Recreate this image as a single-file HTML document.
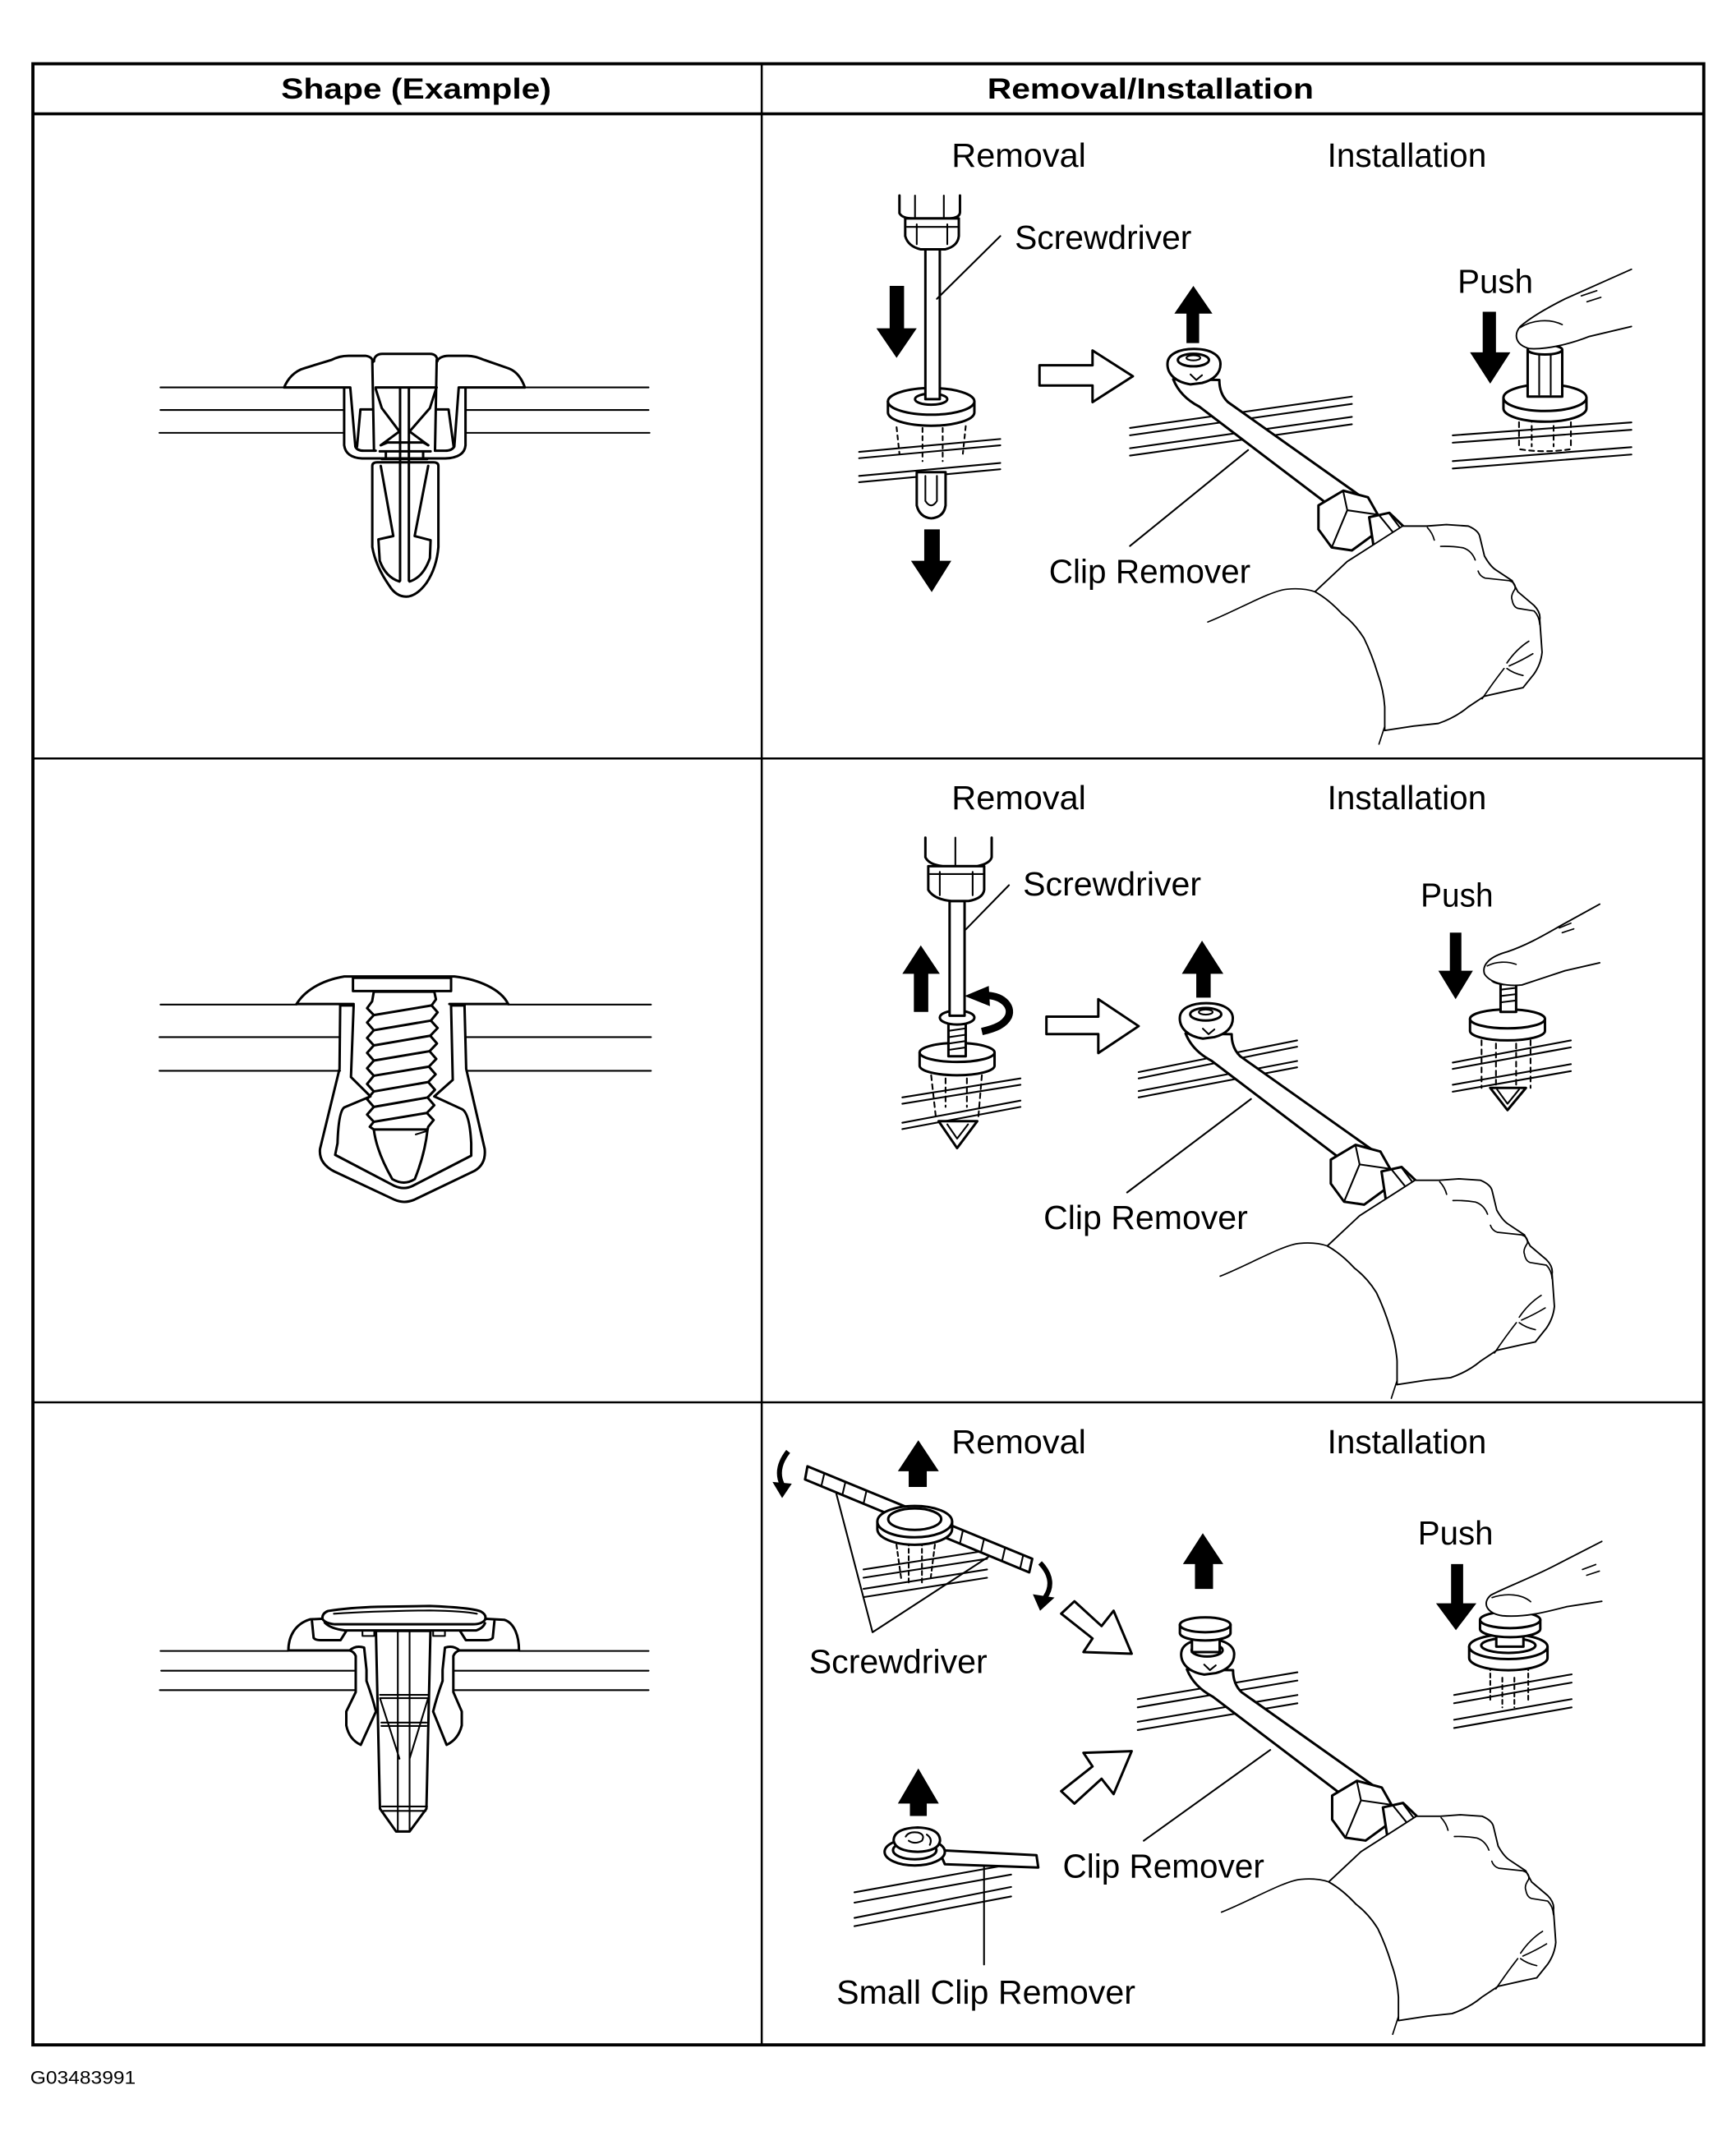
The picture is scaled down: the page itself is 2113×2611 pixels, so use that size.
<!DOCTYPE html>
<html><head><meta charset="utf-8">
<style>
html,body{margin:0;padding:0;background:#fff;}
svg{display:block;}
.s{fill:none;stroke:#000;stroke-width:3;stroke-linejoin:round;stroke-linecap:round;vector-effect:non-scaling-stroke;}
.t{fill:none;stroke:#000;stroke-width:2.1;stroke-linejoin:round;stroke-linecap:round;vector-effect:non-scaling-stroke;}
.w{fill:#fff;stroke:#000;stroke-width:3;stroke-linejoin:round;stroke-linecap:round;vector-effect:non-scaling-stroke;}
.h{fill:#fff;stroke:#000;stroke-width:1.9;stroke-linejoin:round;stroke-linecap:round;vector-effect:non-scaling-stroke;}
.hl{fill:none;stroke:#000;stroke-width:1.7;stroke-linejoin:round;stroke-linecap:round;vector-effect:non-scaling-stroke;}
.f{fill:#000;stroke:none;}
.k{fill:none;stroke:#000;stroke-width:9;stroke-linecap:butt;vector-effect:non-scaling-stroke;}
text{font-family:"Liberation Sans",Arial,sans-serif;fill:#000;}
.lb{font-size:24.5px;}
.hd{font-size:21px;font-weight:bold;}
</style></head><body>
<svg width="2113" height="2611" viewBox="0 0 1266 1564" preserveAspectRatio="none" xmlns="http://www.w3.org/2000/svg">
<defs>
<clipPath id="c1" clipPathUnits="userSpaceOnUse"><rect x="556" y="84" width="686" height="468"/></clipPath>
<clipPath id="c2" clipPathUnits="userSpaceOnUse"><rect x="556" y="554" width="686" height="468"/></clipPath>
<clipPath id="c3" clipPathUnits="userSpaceOnUse"><rect x="556" y="1023" width="686" height="468"/></clipPath>
<g id="rem" transform="translate(599.2,131.8) scale(0.4203,0.269)">
 <path class="w" d="M610,538Q622,585 655,612L885,885L938,858L705,600Q690,578 690,540Z"/>
 <path class="w" d="M600,497C600,468 622,456 646,456C674,456 692,472 692,497C692,522 680,540 660,548L640,552C615,546 600,525 600,497Z"/>
 <ellipse class="s" cx="645" cy="486" rx="27" ry="17"/>
 <ellipse class="t" cx="645" cy="480" rx="12" ry="7"/>
 <path class="t" d="M640,525L650,540L660,527"/>
 <path class="w" d="M862,880L905,840L948,858L965,905L955,962L920,1002L885,994L862,945Z"/>
 <path class="t" d="M905,842L912,893L965,905M912,893L885,994"/>
 <path class="w" d="M950,912L985,900L1015,945L1000,1025L960,1015Z"/>
 <path class="t" d="M968,908L995,960L985,1020M985,902L1008,950"/>
 <path class="hl" d="M670,1196C720,1165 780,1110 808,1107C830,1104 845,1108 856,1114"/>
 <path class="h" d="M1008,936L1050,936L1084,932L1122,936Q1140,948 1142,965L1150,1017Q1160,1045 1170,1055L1198,1084L1208,1114L1236,1151Q1248,1170 1246,1190L1250,1278Q1248,1310 1236,1337L1217,1374L1193,1382L1150,1397L1122,1426Q1100,1455 1070,1471L1027,1478L977,1490L977,1426Q975,1380 965,1337Q955,1285 941,1240Q925,1200 903,1174Q880,1135 856,1114L912,1032Z"/>
 <path class="hl" d="M977,1479L967,1527"/>
 <path class="hl" d="M1051,940Q1060,955 1063,974M1074,991Q1095,990 1113,995Q1128,1003 1134,1028M1139,1058Q1142,1072 1151,1077L1193,1084Q1205,1090 1203,1107Q1195,1125 1198,1136Q1200,1155 1208,1159L1236,1166Q1245,1180 1246,1203M1189,1307Q1205,1270 1227,1248M1193,1315Q1215,1300 1234,1282M1189,1322Q1200,1335 1217,1341M1146,1404Q1165,1360 1184,1322"/>
</g>
</defs>
<rect x="0" y="0" width="1266" height="1564" fill="#fff"/>

<!-- ROW 1 LEFT -->
<g transform="translate(100.93,240.34) scale(0.2472,0.2007)">
 <path class="t" d="M65,210H430M1140,210H1505M65,292H607M965,292H1505M62,375H607M965,375H1508"/>
 <path class="s" d="M430,210C440,180 460,150 490,140L570,110C585,100 600,95 620,95L670,95C685,98 690,105 692,118"/>
 <path class="s" d="M695,115C695,98 705,88 720,88L860,88C875,88 882,98 882,115"/>
 <path class="s" d="M880,118C884,103 898,95 915,95L970,95C990,95 1005,103 1020,110L1090,140C1115,150 1130,175 1140,210"/>
 <path class="s" d="M430,210H625L640,425Q645,440 665,440H700"/>
 <path class="s" d="M1140,210H945L932,425Q925,440 905,440H875"/>
 <path class="s" d="M607,215V420Q612,465 660,468H905Q962,465 965,420V215"/>
 <path class="s" d="M690,290H655L645,425M880,290H915L930,425"/>
 <path class="s" d="M690,110L695,440M880,110L875,440"/>
 <path class="s" d="M700,215L718,285L770,370L715,420M878,215L860,285L800,370L855,420"/>
 <path class="s" d="M700,210H880M772,210V912M798,210V912"/>
 <path class="s" d="M715,420L735,410H840L855,420M712,442H862M718,470H852M730,442V470M840,442V470"/>
 <path class="s" d="M690,495Q690,482 705,482H870Q885,482 885,495V790Q880,865 850,920Q820,970 790,970Q760,970 740,930Q700,860 690,790Z"/>
 <path class="s" d="M715,495L752,750L708,762L712,840Q730,900 770,915M855,495L815,750L862,765L860,830Q840,900 800,915"/>
</g>

<!-- ROW 2 LEFT -->
<g transform="translate(101.1,692.9) scale(0.245,0.201)">
 <path class="t" d="M65,197H470M1100,197H1525M62,315H600M975,315H1525M62,437H600M975,437H1525"/>
 <path class="s" d="M470,195C492,150 540,110 612,95H940C1010,105 1078,140 1100,195"/>
 <path class="s" d="M470,195H640M925,195H1100"/>
 <path class="s" d="M638,100H930V148H638Z"/>
 <path class="s" d="M600,200L598,430L540,720Q535,772 582,802L762,905Q790,920 820,905L1000,800Q1035,775 1030,720L975,430L970,200"/>
 <path class="s" d="M600,200H640L632,460L690,530L612,570Q595,585 592,700L585,742L762,855Q790,870 815,855L990,745L990,700Q985,585 960,575L880,530L935,470L930,200H970"/>
 <path class="s" d="M700,150H880"/>
 <path class="s" d="M700,150L695,185L680,210L700,235L680,262L700,290L680,318L700,345L680,372L700,400L680,428L700,455L680,485L700,512L680,540L700,568L680,596L700,622L688,640L700,650"/>
 <path class="s" d="M880,150L885,178L872,200L890,225L870,255L890,282L868,310L888,338L866,366L886,394L864,422L884,450L862,478L882,506L860,534L880,562L858,590L878,616L862,640L860,650"/>
 <path class="s" d="M700,235L872,200M700,290L870,255M700,345L868,310M700,400L866,366M700,455L864,422M700,512L862,478M700,568L860,534M700,622L858,590"/>
 <path class="s" d="M700,650H860Q852,740 822,830Q790,855 755,830Q708,730 700,650Z"/>
 <path class="t" d="M825,668L860,655"/>
</g>

<!-- ROW 3 LEFT -->
<g transform="translate(102.3,1140.6) scale(0.2455,0.2025)">
 <path class="t" d="M60,312H440M1125,312H1510M62,383H640M930,383H1510M58,453H640M930,453H1510"/>
 <path class="s" d="M440,310C440,262 458,215 505,198L545,196M1020,196L1082,200C1112,212 1125,260 1125,310"/>
 <path class="s" d="M440,310H625M945,310H1125"/>
 <path class="w" d="M558,168Q620,156 705,153L860,150Q985,156 1012,170Q1030,182 1024,200Q1014,216 988,216H578Q548,212 541,196Q540,176 558,168Z"/>
 <path class="t" d="M575,178Q700,168 860,166Q960,168 1000,178"/>
 <path class="s" d="M548,210Q565,232 608,238H998Q1018,230 1024,212"/>
 <path class="s" d="M510,205L515,265Q520,273 535,273H595L612,240M1052,205L1047,265Q1042,273 1027,273H967L950,240"/>
 <path class="t" d="M660,240V258H695V240M870,240V258H905V240"/>
 <path class="s" d="M622,310Q640,290 665,300L672,380L672,420Q690,480 700,530L655,650Q620,630 612,580L612,530L640,460L640,330Q635,315 622,310Z"/>
 <path class="s" d="M948,310Q930,290 905,300L898,380L898,420Q880,480 870,530L910,650Q945,630 955,580L955,530L930,460L930,330Q935,315 948,310Z"/>
 <path class="w" d="M700,240L712,880L760,962H800L850,880L862,240Z"/>
 <path class="t" d="M765,240V960M800,240V960M712,470H855M712,482H855M716,570H850M716,582H850M718,872H852M722,888H848M712,482L770,700M855,482L800,700"/>
</g>

<!-- ROW 1 RIGHT -->
<g transform="translate(599.2,131.8) scale(0.4203,0.269)">
 <path class="t" d="M65,735L310,700M65,752L310,717M65,800L310,765M65,817L310,782"/>
 <path class="t" stroke-dasharray="5,5" d="M130,668L135,740M250,665L245,740M175,670V760M210,670V760"/>
 <path class="w" d="M165,790V880Q170,912 190,915Q212,912 215,880V790Z"/>
 <path class="t" d="M180,800V868Q190,892 200,868V800"/>
 <path class="w" d="M115,598V628A75,36 0 0 0 265,628V598Z"/>
 <ellipse class="w" cx="190" cy="598" rx="75" ry="36"/>
 <ellipse class="s" cx="190" cy="592" rx="28" ry="15"/>
 <path class="w" d="M180,186V592H205V186Z"/>
 <path class="w" d="M135,40V88Q140,102 158,102H222Q240,100 240,85V40"/>
 <path class="t" d="M162,40V98M212,40V98"/>
 <path class="w" d="M145,102V150Q150,178 172,186H214Q236,178 238,150V102Z"/>
 <path class="t" d="M165,118V172M218,118V172M148,125H236"/>
 <path class="t" d="M200,320L310,150"/>
 <polygon class="f" points="118,285 143,285 143,400 165,400 130,480 95,400 118,400"/>
 <polygon class="f" points="178,945 205,945 205,1030 225,1030 191,1115 155,1030 178,1030"/>
 <polygon class="w" points="378,500 470,500 470,460 540,530 470,600 470,555 378,555"/>
 <polygon class="f" points="633,440 655,440 655,360 678,360 645,285 612,360 633,360"/>
 <path class="t" d="M535,670L920,585M535,690L920,605M535,725L920,640M535,745L920,660"/>
 <path class="t" d="M740,730L535,990"/>
 <polygon class="f" points="1147,355 1170,355 1170,465 1195,465 1160,550 1125,465 1147,465"/>
 <path class="t" d="M1095,690L1405,655M1095,710L1405,675M1095,760L1405,722M1095,780L1405,742"/>
 <path class="t" stroke-dasharray="6,5" d="M1210,630V725M1300,630V725M1232,640V720M1270,640V720M1212,728Q1255,738 1298,728"/>
 <path class="w" d="M1183,588V617A72,36 0 0 0 1327,617V588Z"/>
 <ellipse class="w" cx="1255" cy="588" rx="72" ry="36"/>
 <path class="w" d="M1225,458V585H1285V458Z"/>
 <path class="t" d="M1245,470V580M1265,470V580"/>
 <ellipse class="w" cx="1255" cy="458" rx="30" ry="13"/>
 <path class="h" d="M1405,240L1290,320C1262,342 1232,368 1212,395C1200,418 1204,445 1228,455C1258,458 1300,442 1332,422L1405,395"/>
 <path class="hl" d="M1212,398C1232,378 1262,372 1285,390M1318,312L1345,298M1328,328L1352,316"/>
</g>

<!-- ROW 2 RIGHT -->
<g transform="translate(599.2,599.2) scale(0.4203,0.231)">
 <path class="t" d="M140,870L345,810M140,890L345,830M140,950L345,880M140,970L345,900"/>
 <path class="t" stroke-dasharray="6,5" d="M190,800L198,930M278,800L272,930M215,810V900M252,810V900"/>
 <path class="w" d="M203,945L235,1030L270,945Z"/>
 <path class="t" d="M218,955L235,1000L254,955"/>
 <path class="w" d="M170,728V770A65,30 0 0 0 300,770V728Z"/>
 <ellipse class="w" cx="235" cy="728" rx="65" ry="30"/>
 <path class="w" d="M220,635V740H250V635Z"/>
 <path class="t" d="M220,660L250,652M220,680L250,672M220,700L250,692M220,720L250,712"/>
 <ellipse class="w" cx="235" cy="618" rx="30" ry="22"/>
 <path class="w" d="M222,250V612H248V250Z"/>
 <path class="w" d="M180,50V112Q186,135 210,140H270Q292,132 295,112V50"/>
 <path class="t" d="M232,50V135"/>
 <path class="w" d="M185,140V215Q195,245 225,250H255Q280,242 282,215V140Z"/>
 <path class="t" d="M205,158V232M262,158V232M188,165H280"/>
 <path class="t" d="M250,340L325,200"/>
 <polygon class="f" points="160,600 185,600 185,480 205,480 172,390 140,480 160,480"/>
 <path class="k" d="M280,548C312,545 332,580 324,615C317,640 302,652 278,662"/>
 <polygon class="f" points="248,550 290,518 292,582"/>
 <polygon class="w" points="390,615 480,615 480,560 550,645 480,730 480,670 390,670"/>
 <polygon class="f" points="650,555 675,555 675,480 697,480 660,375 625,480 650,480"/>
 <path class="t" d="M550,790L825,690M550,810L825,710M550,850L825,755M550,870L825,775"/>
 <path class="t" d="M745,875L530,1170"/>
 <polygon class="f" points="1090,350 1110,350 1110,470 1130,470 1100,560 1070,470 1090,470"/>
 <path class="t" d="M1095,760L1300,690M1095,780L1300,712M1095,830L1300,765M1095,852L1300,787"/>
 <path class="t" stroke-dasharray="6,5" d="M1145,690V840M1230,690V840M1170,700V830M1205,700V830"/>
 <path class="w" d="M1160,840L1190,910L1222,840Z"/>
 <path class="t" d="M1172,845L1190,890L1210,845"/>
 <path class="w" d="M1125,622V660A65,30 0 0 0 1255,660V622Z"/>
 <ellipse class="w" cx="1190" cy="622" rx="65" ry="30"/>
 <path class="w" d="M1178,510V600H1205V510Z"/>
 <path class="t" d="M1178,530L1205,524M1178,550L1205,544M1178,570L1205,564"/>
 <ellipse class="w" cx="1190" cy="495" rx="28" ry="18"/>
 <path class="h" d="M1350,260L1290,320C1260,350 1230,385 1190,410C1160,425 1145,450 1150,480C1160,510 1190,520 1215,515C1240,500 1265,485 1290,470L1350,445"/>
 <path class="hl" d="M1155,455C1170,440 1190,440 1205,450M1280,335L1300,320M1285,350L1305,338"/>
</g>

<!-- ROW 3 RIGHT -->
<g transform="translate(557.2,1030.6) scale(0.4395,0.301)">
 <path class="k" style="stroke-width:6" d="M40,92C24,122 22,148 30,172"/>
 <polygon class="f" points="14,166 46,170 30,205"/>
 <polygon class="f" points="240,178 270,178 270,140 290,140 256,65 222,140 240,140"/>
 <path class="t" d="M165,378L370,332M165,398L370,352M165,425L370,378M165,445L370,398"/>
 <path class="t" d="M120,195L180,530L380,340"/>
 <path class="t" stroke-dasharray="5,4" d="M218,300L228,405M285,300L276,405M240,310V410M262,310V410"/>
 <path class="w" d="M72,128L445,352L440,385L68,160Z"/>
 <path class="t" d="M100,145L95,176M135,166L130,197M170,187L165,219M330,283L325,315M365,304L360,336M400,325L395,357M430,343L425,375"/>
 <path class="w" d="M188,262V280A62,38 0 0 0 312,280V262Z"/>
 <ellipse class="w" cx="250" cy="262" rx="62" ry="38"/>
 <ellipse class="s" cx="250" cy="256" rx="44" ry="26"/>
 <path class="k" style="stroke-width:6" d="M458,362C478,392 478,422 466,446"/>
 <polygon class="f" points="446,438 482,446 458,478"/>
 <polygon class="w" points="515,455 560,515 580,478 610,582 530,578 545,545 493,485"/>
 <polygon class="w" points="493,915 545,855 530,822 610,818 580,922 560,885 515,945"/>
 <polygon class="f" points="715,425 745,425 745,365 762,365 728,290 695,365 715,365"/>
 <path class="t" d="M620,692L885,627M620,712L885,647M620,747L885,682M620,767L885,702"/>
 <path class="t" d="M840,815L630,1035"/>
 <polygon class="f" points="242,975 270,975 270,945 290,945 256,860 222,945 242,945"/>
 <path class="t" d="M150,1160L410,1092M150,1185L410,1117M150,1222L410,1147M150,1242L410,1170"/>
 <path class="t" d="M365,1095V1335"/>
 <path class="w" d="M290,1058L452,1070L455,1100L300,1092Z"/>
 <ellipse class="w" cx="250" cy="1062" rx="50" ry="33"/>
 <ellipse class="s" cx="250" cy="1058" rx="36" ry="22"/>
 <path class="w" d="M215,1035Q215,1005 255,1003Q292,1005 292,1035Q290,1060 255,1062Q218,1060 215,1035Z"/>
 <path class="t" d="M235,1025Q240,1012 255,1015Q268,1020 262,1035Q250,1045 240,1035M270,1020Q280,1030 275,1045"/>
 <polygon class="f" points="1140,365 1160,365 1160,460 1182,460 1148,525 1115,460 1140,460"/>
 <path class="t" d="M1145,682L1340,632M1145,702L1340,652M1145,742L1340,692M1145,762L1340,712"/>
 <path class="t" stroke-dasharray="5,4" d="M1205,612V700M1268,612V700M1225,640V712M1245,640V712"/>
 <path class="w" d="M1170,565V592A65,30 0 0 0 1300,592V565Z"/>
 <ellipse class="w" cx="1235" cy="565" rx="65" ry="30"/>
 <ellipse class="s" cx="1235" cy="562" rx="45" ry="18"/>
 <path class="w" d="M1215,525V565H1260V525Z"/>
 <path class="w" d="M1188,500V522A50,20 0 0 0 1288,522V500Z"/>
 <ellipse class="w" cx="1238" cy="500" rx="50" ry="20"/>
 <path class="h" d="M1390,310L1310,370C1270,400 1232,420 1206,440C1190,460 1200,485 1225,490C1262,495 1300,480 1332,468L1390,455"/>
 <path class="hl" d="M1208,446C1232,434 1258,438 1272,456M1358,378L1380,366M1365,392L1386,382"/>
</g>

<!-- Clip remover + hand assemblies -->
<g clip-path="url(#c1)"><use href="#rem"/></g>
<g clip-path="url(#c2)"><use href="#rem" transform="translate(9,477)"/></g>
<g clip-path="url(#c3)"><use href="#rem" transform="translate(10,940.7)"/></g>

<!-- Row 3 mushroom clip on remover -->
<g transform="translate(557.2,1030.6) scale(0.4395,0.301)">
 <path class="w" d="M710,530V578H756V530Z"/>
 <path class="w" d="M690,512V532A42,18 0 0 0 774,532V512Z"/>
 <ellipse class="w" cx="732" cy="512" rx="42" ry="18"/>
</g>

<!-- TABLE -->
<rect x="24" y="46.5" width="1218.5" height="1444.5" fill="none" stroke="#000" stroke-width="2.3"/>
<line x1="24" y1="83" x2="1242.5" y2="83" stroke="#000" stroke-width="2.2"/>
<line x1="555.5" y1="46.5" x2="555.5" y2="1491" stroke="#000" stroke-width="1.5"/>
<line x1="24" y1="553" x2="1242.5" y2="553" stroke="#000" stroke-width="1.5"/>
<line x1="24" y1="1022.5" x2="1242.5" y2="1022.5" stroke="#000" stroke-width="1.5"/>

<!-- TEXT -->
<text class="hd" x="205" y="72" textLength="197" lengthAdjust="spacingAndGlyphs">Shape (Example)</text>
<text class="hd" x="720" y="72" textLength="238" lengthAdjust="spacingAndGlyphs">Removal/Installation</text>

<text class="lb" x="694" y="121.5" textLength="98" lengthAdjust="spacingAndGlyphs">Removal</text>
<text class="lb" x="968" y="121.5" textLength="116" lengthAdjust="spacingAndGlyphs">Installation</text>
<text class="lb" x="740" y="181.6" textLength="129" lengthAdjust="spacingAndGlyphs">Screwdriver</text>
<text class="lb" x="1063" y="213.7" textLength="55" lengthAdjust="spacingAndGlyphs">Push</text>
<text class="lb" x="765" y="425" textLength="147" lengthAdjust="spacingAndGlyphs">Clip Remover</text>

<text class="lb" x="694" y="590" textLength="98" lengthAdjust="spacingAndGlyphs">Removal</text>
<text class="lb" x="968" y="590" textLength="116" lengthAdjust="spacingAndGlyphs">Installation</text>
<text class="lb" x="746" y="653" textLength="130" lengthAdjust="spacingAndGlyphs">Screwdriver</text>
<text class="lb" x="1036" y="661" textLength="53" lengthAdjust="spacingAndGlyphs">Push</text>
<text class="lb" x="761" y="896" textLength="149" lengthAdjust="spacingAndGlyphs">Clip Remover</text>

<text class="lb" x="694" y="1059.5" textLength="98" lengthAdjust="spacingAndGlyphs">Removal</text>
<text class="lb" x="968" y="1059.5" textLength="116" lengthAdjust="spacingAndGlyphs">Installation</text>
<text class="lb" x="1034" y="1126" textLength="55" lengthAdjust="spacingAndGlyphs">Push</text>
<text class="lb" x="590" y="1220" textLength="130" lengthAdjust="spacingAndGlyphs">Screwdriver</text>
<text class="lb" x="775" y="1369" textLength="147" lengthAdjust="spacingAndGlyphs">Clip Remover</text>
<text class="lb" x="610" y="1461" textLength="218" lengthAdjust="spacingAndGlyphs">Small Clip Remover</text>

<text x="22" y="1519.5" font-size="13.5" textLength="77" lengthAdjust="spacingAndGlyphs">G03483991</text>
</svg>
</body></html>
